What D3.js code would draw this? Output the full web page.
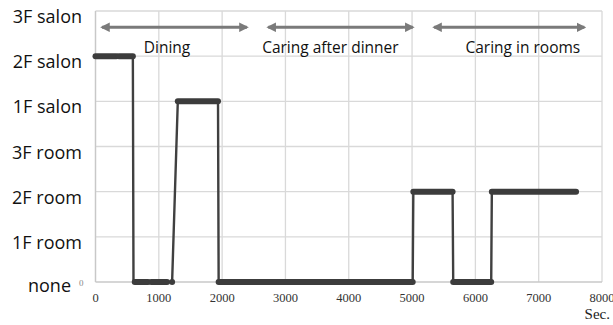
<!DOCTYPE html>
<html>
<head>
<meta charset="utf-8">
<script src="https://cdn.jsdelivr.net/npm/d3@7"></script>
<style>
  body { margin: 0; background: #fff; }
  svg { display: block; }
</style>
</head>
<body>
<svg id="chart" width="613" height="325"></svg>
<script>
// location levels, bottom to top
var levelNames = ["none", "1F room", "2F room", "3F room", "1F salon", "2F salon", "3F salon"]
var xTicks = [0, 1000, 2000, 3000, 4000, 5000, 6000, 7000, 8000]

// step path [seconds, level]
var trackTimes  = [0, 590, 600, 1210, 1300, 1935, 1945, 5010, 5020, 5640, 5650, 6250, 6260, 7590]
var trackLevels = [5, 5,   0,   0,    4,    4,    0,    0,    2,    2,    0,    0,    2,    2]

// runs of recorded samples [start, end, level]
var runStart = [0,   370, 620, 880,  1210, 1300, 1945, 5020, 5650, 6260]
var runEnd   = [330, 590, 830, 1130, 1210, 1935, 5010, 5640, 6250, 7590]
var runLevel = [5,   5,   0,   0,    0,    4,    0,    2,    0,    2]

// activity phases
var phaseNames = ["Dining", "Caring after dinner", "Caring in rooms"]
var phaseStart = [25, 2650, 5270]
var phaseEnd   = [2470, 5090, 7800]
var phaseLabelAt = [1130, 3710, 6750]

var svg = d3.select("#chart")
var margin = {left: 95.5, right: 11, top: 11, bottom: 43}
var W = 613, H = 325

var x = d3.scaleLinear().domain([0, 8000]).range([margin.left, W - margin.right])
var y = d3.scaleLinear().domain([0, 6]).range([H - margin.bottom, margin.top])

// grid
svg.append("g")
    .selectAll("line.v")
    .data(xTicks)
    .enter().append("line")
    .attr("x1", d => x(d)).attr("x2", d => x(d))
    .attr("y1", y(0)).attr("y2", y(6))
    .style("stroke", "#d9d9d9")
    .style("stroke-width", 1.3)

svg.append("g")
    .selectAll("line.h")
    .data(d3.range(1, 7))
    .enter().append("line")
    .attr("x1", x(0)).attr("x2", x(8000))
    .attr("y1", d => y(d)).attr("y2", d => y(d))
    .style("stroke", "#d9d9d9")
    .style("stroke-width", 1.3)

// axes lines
svg.append("line")
    .attr("x1", x(0)).attr("x2", x(8000))
    .attr("y1", y(0)).attr("y2", y(0))
    .style("stroke", "#c8c8c8").style("stroke-width", 1.3)
svg.append("line")
    .attr("x1", x(0)).attr("x2", x(0))
    .attr("y1", y(0)).attr("y2", y(6))
    .style("stroke", "#c8c8c8").style("stroke-width", 1.3)

// x tick labels
svg.append("g")
    .selectAll("text")
    .data(xTicks)
    .enter().append("text")
    .attr("x", d => x(d))
    .attr("y", y(0) + 20)
    .attr("text-anchor", "middle")
    .style("font-family", "'Liberation Serif', serif")
    .style("font-size", "12.5px")
    .style("fill", "#333")
    .text(d => d)

svg.append("text")
    .attr("x", W - 3)
    .attr("y", H - 6)
    .attr("text-anchor", "end")
    .style("font-family", "'Liberation Serif', serif")
    .style("font-size", "15px")
    .style("fill", "#222")
    .text("Sec.")

// tiny 0 on y axis
svg.append("text")
    .attr("x", x(0) - 12)
    .attr("y", y(0) + 4)
    .attr("text-anchor", "end")
    .style("font-family", "'Liberation Serif', serif")
    .style("font-size", "9px")
    .style("fill", "#888")
    .text("0")

// level names
svg.append("g")
    .selectAll("text")
    .data(levelNames)
    .enter().append("text")
    .attr("x", (d, i) => i == 0 ? 71 : 82)
    .attr("y", (d, i) => y(i) + (i == 0 ? 9.5 : 12))
    .attr("text-anchor", "end")
    .style("font-family", "'Open Sans', sans-serif")
    .style("font-size", "18px")
    .style("fill", "#111")
    .text(d => d)

// phase arrows
var defs = svg.append("defs")
defs.append("marker")
    .attr("id", "head")
    .attr("viewBox", "0 0 10 10")
    .attr("refX", 8).attr("refY", 5)
    .attr("markerWidth", 3).attr("markerHeight", 3)
    .attr("markerUnits", "strokeWidth")
    .attr("orient", "auto-start-reverse")
    .append("path")
    .attr("d", "M0,0 L10,5 L0,10 z")
    .style("fill", "#7a7a7a")

svg.append("g")
    .selectAll("line")
    .data(phaseNames)
    .enter().append("line")
    .attr("x1", (d, i) => x(phaseStart[i]) + 5)
    .attr("x2", (d, i) => x(phaseEnd[i]) - 5)
    .attr("y1", y(5.64)).attr("y2", y(5.64))
    .style("stroke", "#7a7a7a")
    .style("stroke-width", 3.2)
    .attr("marker-start", "url(#head)")
    .attr("marker-end", "url(#head)")

svg.append("g")
    .selectAll("text")
    .data(phaseNames)
    .enter().append("text")
    .attr("x", (d, i) => x(phaseLabelAt[i]))
    .attr("y", y(5.2) + 6)
    .attr("text-anchor", "middle")
    .style("font-family", "'Open Sans', sans-serif")
    .style("font-size", "15.5px")
    .style("fill", "#111")
    .text(d => d)

// step path
var track = trackTimes.map((t, i) => [t, trackLevels[i]])
svg.append("path")
    .datum(track)
    .attr("d", d3.line().x(d => x(d[0])).y(d => y(d[1])))
    .style("fill", "none")
    .style("stroke", "#404040")
    .style("stroke-width", 2.4)

// sample runs
svg.append("g")
    .selectAll("line")
    .data(runStart)
    .enter().append("line")
    .attr("x1", (d, i) => x(runStart[i]))
    .attr("x2", (d, i) => x(runEnd[i]))
    .attr("y1", (d, i) => y(runLevel[i]))
    .attr("y2", (d, i) => y(runLevel[i]))
    .style("stroke", "#3c3c3c")
    .style("stroke-width", 6)
    .style("stroke-linecap", "round")
</script>
</body>
</html>
